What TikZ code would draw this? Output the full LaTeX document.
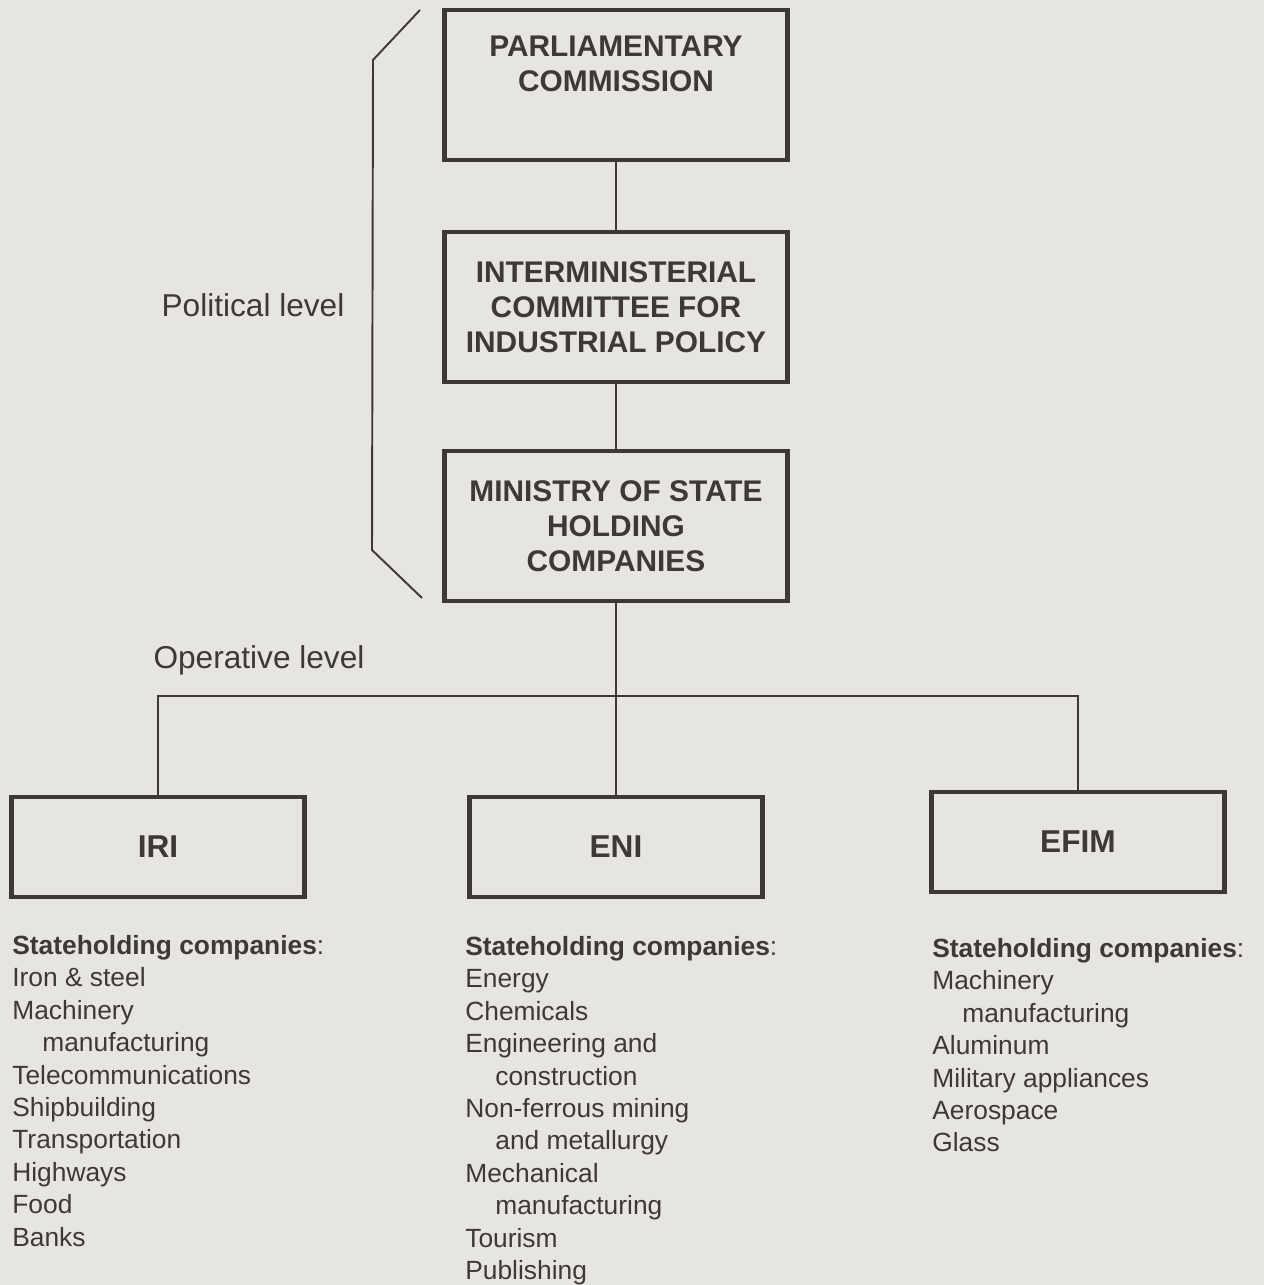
\documentclass[tikz,border=0pt]{standalone}
\usepackage{fontspec}
\setmainfont{Liberation Sans}
\definecolor{paper}{HTML}{E7E5E2}
\definecolor{ink}{HTML}{3E3838}

\begin{document}
\begin{tikzpicture}[x = 0.02cm, y = -0.02cm]

    \tikzset{
      board/.style={
        draw = ink,
        line width = 2.8pt,
        fill = paper,
        align = center,
        text = ink,
        inner sep = 0pt,
        minimum width = 6.86cm,
        minimum height = 3cm,
        font = \fontsize{17}{20}\selectfont\bfseries,
      },
      unit/.style={
        board,
        minimum width = 5.86cm,
        minimum height = 2cm,
        font = \fontsize{18}{21}\selectfont\bfseries,
      },
      listing/.style={
        anchor = north west,
        align = left,
        text = ink,
        inner sep = 0pt,
        font = \fontsize{15}{18.45}\selectfont,
      },
      level/.style={
        text = ink,
        inner sep = 0pt,
        font = \fontsize{18}{21}\selectfont,
      },
      link/.style={
        draw = ink,
        line width = 1.1pt,
      },
    }
    \useasboundingbox (0,0) rectangle (1264,1285);
    \fill [paper] (0,0) rectangle (1264,1285);

	% political level
	\node [board, text depth = 24pt] (parliament) at (616,85) {PARLIAMENTARY\\COMMISSION};
	\node [board] (committee) at (616,307) {INTERMINISTERIAL\\COMMITTEE FOR\\INDUSTRIAL POLICY};
	\node [board] (ministry) at (616,526) {MINISTRY OF STATE\\HOLDING\\COMPANIES};
	\draw [link] (parliament) -- (committee);
	\draw [link] (committee) -- (ministry);

	\coordinate (brace a) at (420,10);
	\coordinate (brace b) at (373,60);
	\coordinate (brace c) at (372,550);
	\coordinate (brace d) at (422,598);
	\draw [link, line join = round] (brace a) -- (brace b) -- (brace c) -- (brace d);

	\node [level] (political) at (253,305) {Political level};
	\node [level] (operative) at (259,660) {Operative level};

	% operative level
	\node [unit] (iri) at (158,847) {IRI};
	\node [unit] (eni) at (616,847) {ENI};
	\node [unit] (efim) at (1078,842) {EFIM};
	\coordinate (bus) at (616,696);
	\draw [link] (ministry) -- (eni);
	\draw [link] (iri.north) |- (bus) -| (efim.north);

	\node [listing] (iri list) at (12,935) {\textbf{Stateholding companies}:\\
	  Iron \& steel\\
	  Machinery\\
	  \hspace*{0.6cm}manufacturing\\
	  Telecommunications\\
	  Shipbuilding\\
	  Transportation\\
	  Highways\\
	  Food\\
	  Banks};
	\node [listing] (eni list) at (465,936) {\textbf{Stateholding companies}:\\
	  Energy\\
	  Chemicals\\
	  Engineering and\\
	  \hspace*{0.6cm}construction\\
	  Non-ferrous mining\\
	  \hspace*{0.6cm}and metallurgy\\
	  Mechanical\\
	  \hspace*{0.6cm}manufacturing\\
	  Tourism\\
	  Publishing};
	\node [listing] (efim list) at (932,938) {\textbf{Stateholding companies}:\\
	  Machinery\\
	  \hspace*{0.6cm}manufacturing\\
	  Aluminum\\
	  Military appliances\\
	  Aerospace\\
	  Glass};

\end{tikzpicture}
\end{document}
